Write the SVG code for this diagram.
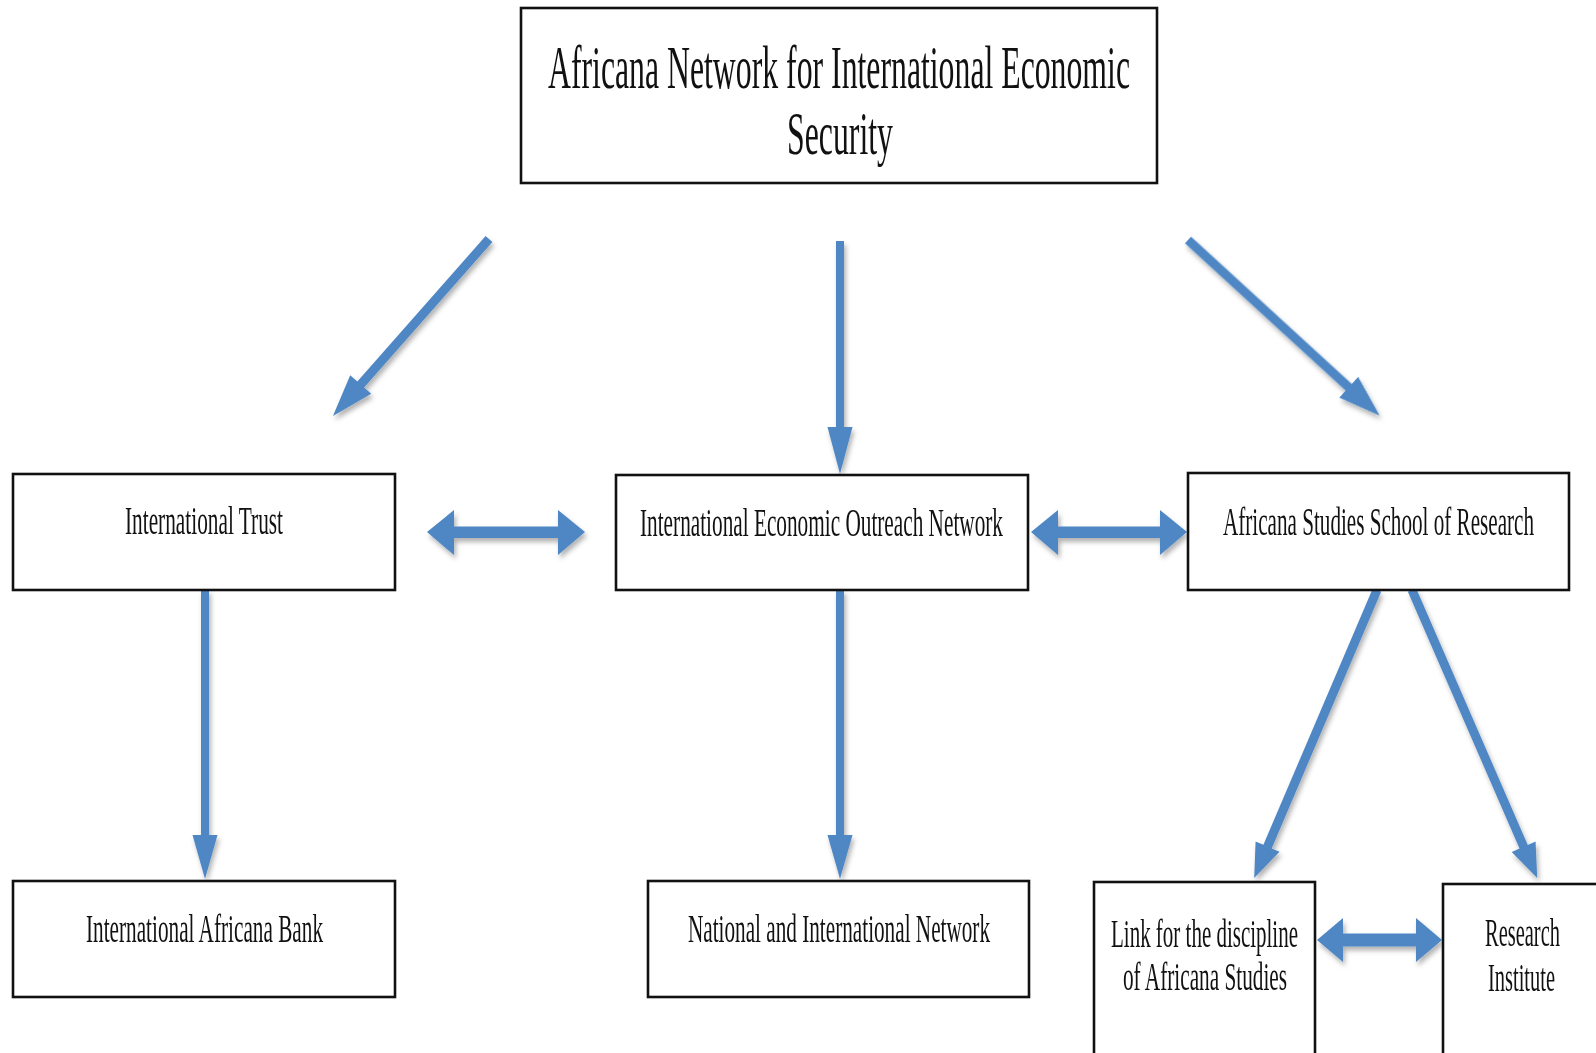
<svg xmlns="http://www.w3.org/2000/svg" width="1596" height="1053" viewBox="0 0 1596 1053">
<style>
.box{fill:#fff;stroke:#111;stroke-width:2.6}
.t{font-family:"Liberation Serif","Times New Roman",serif;font-size:39px;fill:#111}
.big{font-size:61px}
.arr{fill:#4F87C5}
</style>
<defs>
<filter id="sh" x="-20%" y="-20%" width="140%" height="140%">
<feDropShadow dx="2" dy="4" stdDeviation="2.5" flood-color="#000" flood-opacity="0.3"/>
</filter>
</defs>
<rect width="1596" height="1053" fill="#fff"/>

<g id="connectors" class="arr" filter="url(#sh)">
<path transform="translate(489,239) rotate(131.4)" d="M0,-4.5 L194,-4.5 L194,-14 L236,0 L194,14 L194,4.5 L0,4.5 Z"/>
<path d="M836,241 L844,241 L844,427 L852.5,427 L840,474 L827.5,427 L836,427 Z"/>
<path transform="translate(1188,240) rotate(42.5)" d="M0,-4.5 L218,-4.5 L218,-14 L260,0 L218,14 L218,4.5 L0,4.5 Z"/>
<path d="M427,532 L454,510 L454,526.5 L558,526.5 L558,510 L585,532 L558,555 L558,538 L454,538 L454,555 Z"/>
<path d="M1031,532 L1058,510 L1058,526.5 L1160,526.5 L1160,510 L1187,532 L1160,555 L1160,538 L1058,538 L1058,555 Z"/>
<path d="M201,590 L209,590 L209,835 L217.5,835 L205,879 L192.5,835 L201,835 Z"/>
<path d="M836,590 L844,590 L844,835 L852.5,835 L840,879 L827.5,835 L836,835 Z"/>
<path transform="translate(1377,590) rotate(113.1)" d="M0,-4.5 L279,-4.5 L279,-13 L313,0 L279,13 L279,4.5 L0,4.5 Z"/>
<path transform="translate(1412,590) rotate(66.5)" d="M0,-4.5 L280,-4.5 L280,-13 L314,0 L280,13 L280,4.5 L0,4.5 Z"/>
<path d="M1317,940 L1343,918 L1343,933.5 L1416,933.5 L1416,918 L1442,940 L1416,962 L1416,946.5 L1343,946.5 L1343,962 Z"/>
</g>

<g id="top">
<rect class="box" x="521" y="8" width="636" height="175"/>
<text class="t big" x="548" y="88" textLength="582" lengthAdjust="spacingAndGlyphs">Africana Network for International Economic</text>
<text class="t big" x="787" y="154" textLength="106" lengthAdjust="spacingAndGlyphs">Security</text>
</g>

<g id="trust">
<rect class="box" x="13" y="474" width="382" height="116"/>
<text class="t" x="125" y="534" textLength="158" lengthAdjust="spacingAndGlyphs">International Trust</text>
</g>

<g id="ieon">
<rect class="box" x="616" y="475" width="412" height="115"/>
<text class="t" x="640" y="536" textLength="363" lengthAdjust="spacingAndGlyphs">International Economic Outreach Network</text>
</g>

<g id="assr">
<rect class="box" x="1188" y="473" width="381" height="117"/>
<text class="t" x="1223" y="535" textLength="311" lengthAdjust="spacingAndGlyphs">Africana Studies School of Research</text>
</g>

<g id="bank">
<rect class="box" x="13" y="881" width="382" height="116"/>
<text class="t" x="86" y="942" textLength="237" lengthAdjust="spacingAndGlyphs">International Africana Bank</text>
</g>

<g id="national">
<rect class="box" x="648" y="881" width="381" height="116"/>
<text class="t" x="688" y="942" textLength="302" lengthAdjust="spacingAndGlyphs">National and International Network</text>
</g>

<g id="link">
<rect class="box" x="1094" y="882" width="221" height="190"/>
<text class="t" x="1111" y="947" textLength="187" lengthAdjust="spacingAndGlyphs">Link for the discipline</text>
<text class="t" x="1123" y="990" textLength="164" lengthAdjust="spacingAndGlyphs">of Africana Studies</text>
</g>

<g id="research">
<rect class="box" x="1443" y="884" width="170" height="190"/>
<text class="t" x="1485" y="946" textLength="75" lengthAdjust="spacingAndGlyphs">Research</text>
<text class="t" x="1488" y="991" textLength="67" lengthAdjust="spacingAndGlyphs">Institute</text>
</g>
</svg>
